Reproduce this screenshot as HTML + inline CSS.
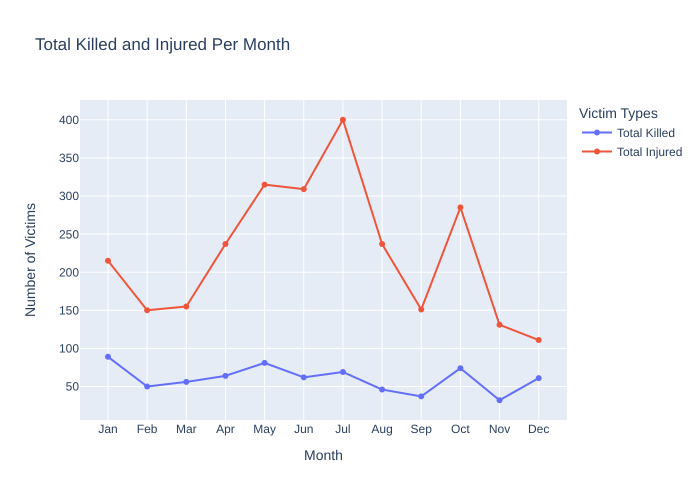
<!DOCTYPE html>
<html>
<head>
<meta charset="utf-8">
<style>
html,body{margin:0;padding:0;background:#fff;width:700px;height:500px;overflow:hidden}
svg{display:block}
text{font-family:"Liberation Sans",Arial,sans-serif;fill:#2a3f5f;text-rendering:geometricPrecision}
</style>
</head>
<body>
<svg id="chart" width="700" height="500" viewBox="0 0 700 500" xmlns="http://www.w3.org/2000/svg">
  <rect x="80" y="100" width="487" height="320" fill="#e5ecf6"/>
  <g id="grid"></g>
  <g id="series"></g>
  <g id="xticks"></g>
  <g id="yticks"></g>
  <text x="35" y="50" font-size="17">Total Killed and Injured Per Month</text>
  <text x="323.5" y="460" font-size="14" text-anchor="middle">Month</text>
  <text transform="translate(35,260) rotate(-90)" font-size="14" text-anchor="middle">Number of Victims</text>
  <g>
    <text x="579" y="118" font-size="14">Victim Types</text>
    <g>
      <line x1="582" y1="132.5" x2="612" y2="132.5" stroke="#636efa" stroke-width="2"/>
      <circle cx="597" cy="132.5" r="3" fill="#636efa"/>
      <text x="617" y="137" font-size="12">Total Killed</text>
    </g>
    <g>
      <line x1="582" y1="151.5" x2="612" y2="151.5" stroke="#ef553b" stroke-width="2"/>
      <circle cx="597" cy="151.5" r="3" fill="#ef553b"/>
      <text x="617" y="156" font-size="12">Total Injured</text>
    </g>
  </g>
</svg>
<script>
const months = ['Jan','Feb','Mar','Apr','May','Jun','Jul','Aug','Sep','Oct','Nov','Dec'];
const totalKilled = [89,50,56,64,81,62,69,46,37,74,32,61];
const totalInjured = [215,150,155,237,315,309,400,237,151,285,131,111];
const yTickValues = [50,100,150,200,250,300,350,400];

const NS = 'http://www.w3.org/2000/svg';
const plot = {left:80, right:567, top:100, bottom:420};
const xScale = i => 108 + i * (538.7 - 108) / 11;
const yScale = v => 386.5 - (v - 50) * (386.5 - 119.8) / 350;

function make(tag, attrs, parent) {
  const el = document.createElementNS(NS, tag);
  for (const k in attrs) el.setAttribute(k, attrs[k]);
  parent.appendChild(el);
  return el;
}

const grid = document.getElementById('grid');
const xticks = document.getElementById('xticks');
const yticks = document.getElementById('yticks');
const seriesLayer = document.getElementById('series');

months.forEach((m, i) => {
  const x = xScale(i);
  const line = make('line', {x1:x, x2:x, y1:plot.top, y2:plot.bottom, stroke:'#fff', 'stroke-width':1}, grid);
  
  
  const label = make('text', {x:x, y:433, 'font-size':12, 'text-anchor':'middle'}, xticks);
  
  
  label.textContent = m;
});

yTickValues.forEach(v => {
  const y = yScale(v);
  const line = make('line', {x1:plot.left, x2:plot.right, y1:y, y2:y, stroke:'#fff', 'stroke-width':1}, grid);
  
  
  const label = make('text', {x:79, y:y + 4.2, 'font-size':12, 'text-anchor':'end'}, yticks);
  
  
  label.textContent = v;
});

function drawSeries(values, color, name) {
  const pts = values.map((v, i) => xScale(i) + ',' + yScale(v)).join(' ');
  const g = make('g', {}, seriesLayer);
  
  
  const line = make('polyline', {points:pts, fill:'none', stroke:color, 'stroke-width':2, 'stroke-linejoin':'round'}, g);
  
  
  values.forEach((v, i) => {
    const c = make('circle', {cx:xScale(i), cy:yScale(v), r:3, fill:color}, g);
    
    
  });
}

drawSeries(totalKilled, '#636efa', 'total-killed');
drawSeries(totalInjured, '#ef553b', 'total-injured');
</script>
</body>
</html>
